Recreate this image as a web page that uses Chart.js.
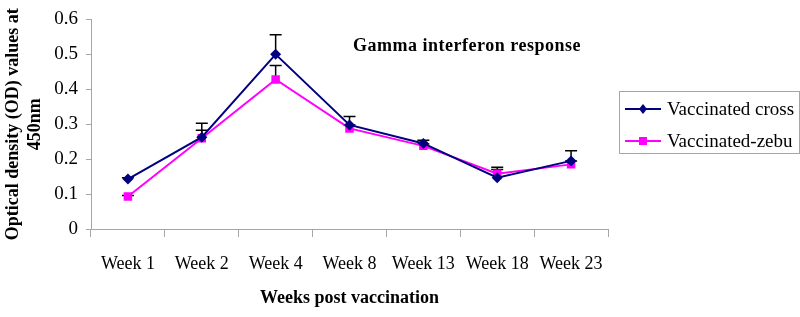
<!DOCTYPE html>
<html>
<head>
<meta charset="utf-8">
<script src="https://cdn.jsdelivr.net/npm/chart.js@4/dist/chart.umd.min.js"></script>
<style>
  html, body { margin: 0; padding: 0; background: #fff; }
  #wrap { width: 800px; height: 317px; position: relative; }
</style>
</head>
<body>
<div id="wrap"><canvas id="chart"></canvas></div>
<script>
const weeks = ["Week 1", "Week 2", "Week 4", "Week 8", "Week 13", "Week 18", "Week 23"];
const crossOD = [0.143, 0.263, 0.5, 0.298, 0.245, 0.147, 0.195];
const zebuOD = [0.093, 0.26, 0.428, 0.288, 0.238, 0.158, 0.185];
// upper error bar length (only the plus side is shown)
const crossErr = [0.004, 0.04, 0.056, 0.024, 0.009, 0.03, 0.029];
const zebuErr = [0.003, 0.023, 0.04, 0.01, 0.005, 0.012, 0.01];

const serif = "'Liberation Serif', 'Times New Roman', serif";
const axisGrey = "#a6a6a6";

const errorBars = {
    id: "errorBars",
    beforeDatasetsDraw(chart) {
        const { ctx, scales } = chart;
        const errs = [crossErr, zebuErr];
        ctx.save();
        ctx.strokeStyle = "#000";
        ctx.lineWidth = 1.5;
        chart.data.datasets.forEach((ds, i) => {
            ds.data.forEach((v, j) => {
                const x = scales.x.getPixelForValue(j);
                const y0 = scales.y.getPixelForValue(v);
                const y1 = scales.y.getPixelForValue(v + errs[i][j]);
                ctx.beginPath();
                ctx.moveTo(x, y0);
                ctx.lineTo(x, y1);
                ctx.moveTo(x - 6, y1);
                ctx.lineTo(x + 6, y1);
                ctx.stroke();
            });
        });
        ctx.restore();
    }
};

const extras = {
    id: "extras",
    afterDraw(chart) {
        const { ctx, chartArea } = chart;
        ctx.save();
        // title inside the plot
        ctx.fillStyle = "#000";
        ctx.font = "bold 18px " + serif;
        ctx.textAlign = "center";
        ctx.textBaseline = "middle";
        ctx.letterSpacing = "0.5px";
        ctx.fillText("Gamma interferon response", chartArea.left + 376, chartArea.top + 27);
        ctx.letterSpacing = "0px";

        // legend box with line + marker samples
        const bx = chartArea.right + 11, by = 91, bw = 180, bh = 62;
        ctx.strokeStyle = axisGrey;
        ctx.lineWidth = 1;
        ctx.strokeRect(bx + 0.5, by + 0.5, bw, bh);
        ctx.font = "19px " + serif;
        ctx.textAlign = "left";
        chart.data.datasets.forEach((ds, i) => {
            const y = by + 18 + i * 32;
            ctx.strokeStyle = ds.borderColor;
            ctx.lineWidth = 2;
            ctx.beginPath();
            ctx.moveTo(bx + 6, y);
            ctx.lineTo(bx + 42, y);
            ctx.stroke();
            ctx.fillStyle = ds.backgroundColor;
            ctx.beginPath();
            if (ds.pointStyle === "rectRot") {
                ctx.moveTo(bx + 24, y - 5);
                ctx.lineTo(bx + 28, y);
                ctx.lineTo(bx + 24, y + 5);
                ctx.lineTo(bx + 20, y);
                ctx.closePath();
            } else {
                ctx.rect(bx + 20, y - 4, 8, 8);
            }
            ctx.fill();
            ctx.fillStyle = "#000";
            ctx.fillText(ds.label, bx + 48, y + 1);
        });
        ctx.restore();
    }
};

new Chart(document.getElementById("chart"), {
    type: "line",
    data: {
        labels: weeks,
        datasets: [
            { label: "Vaccinated cross", data: crossOD, borderColor: "#000080", backgroundColor: "#000080", borderWidth: 2, pointStyle: "rectRot", pointRadius: 5.5, pointBorderWidth: 0, tension: 0 },
            { label: "Vaccinated-zebu", data: zebuOD, borderColor: "#ff00ff", backgroundColor: "#ff00ff", borderWidth: 2, pointStyle: "rect", pointRadius: 6, pointBorderWidth: 0, tension: 0 }
        ]
    },
    options: {
        responsive: true,
        maintainAspectRatio: false,
        animation: false,
        layout: { padding: { left: 0, right: 192, top: 15, bottom: 0 } },
        plugins: { legend: { display: false }, tooltip: { enabled: false } },
        scales: {
            x: {
                offset: true,
                grid: { offset: true, drawOnChartArea: false, color: axisGrey, tickLength: 8 },
                border: { color: axisGrey, width: 1 },
                ticks: { color: "#000", font: { family: serif, size: 18 }, padding: 16, maxRotation: 0, autoSkip: false },
                title: { display: true, text: "Weeks post vaccination", color: "#000", font: { family: serif, size: 18, weight: "bold" }, padding: { top: 0, bottom: 8 } },
                afterFit(scale) { scale.height = 88; }
            },
            y: {
                min: 0,
                max: 0.6,
                ticks: { stepSize: 0.1, color: "#000", font: { family: serif, size: 19 }, padding: 8 },
                grid: { drawOnChartArea: false, color: axisGrey, tickLength: 5 },
                border: { color: axisGrey, width: 1 },
                title: { display: true, text: ["Optical density (OD) values at", "450nm"], color: "#000", font: { family: serif, size: 18, weight: "bold", lineHeight: 1.2 }, padding: { top: 3, bottom: 0 } },
                afterFit(scale) { scale.width = 91; }
            }
        }
    },
    plugins: [errorBars, extras]
});
</script>
</body>
</html>
